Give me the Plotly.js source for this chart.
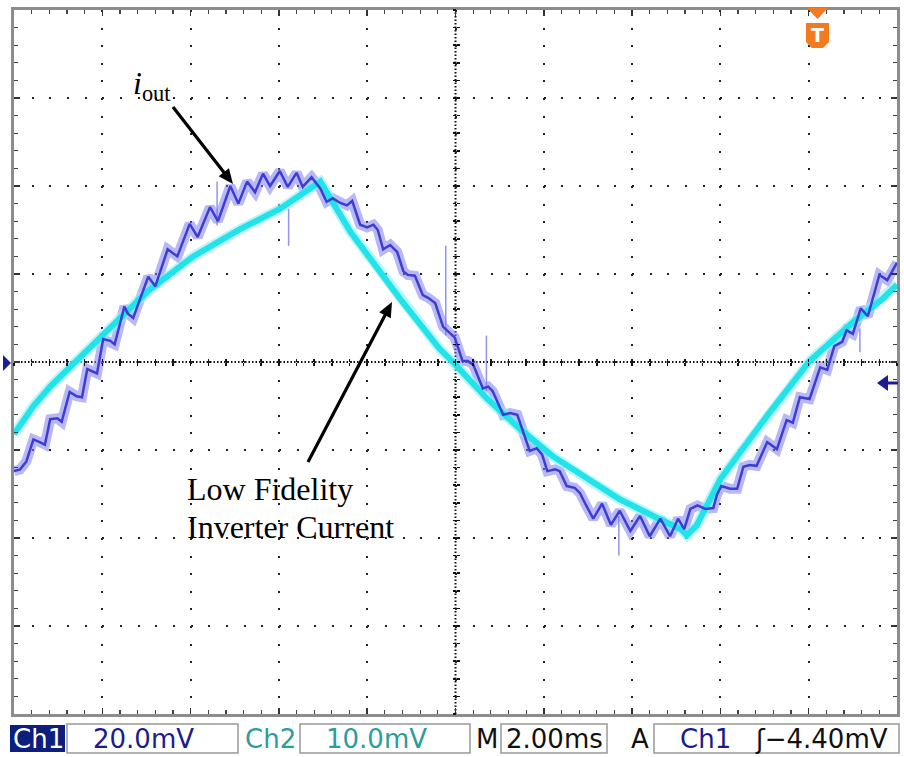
<!DOCTYPE html>
<html>
<head>
<meta charset="utf-8">
<script src="https://cdn.plot.ly/plotly-3.0.1.min.js"></script>
<style>
html,body{margin:0;padding:0;background:#fff;}
#chart{width:904px;height:757px;}
</style>
</head>
<body>
<div id="chart"></div>
<script>
// Oscilloscope screen, read in divisions: time 0..10 div (2.00 ms/div), amplitude -4..4 div
// Ch1 : i_out (ripple current, 20.0 mV/div)
const ch1Time = [0,0.07,0.14,0.22,0.29,0.35,0.41,0.49,0.54,0.63,
  0.71,0.77,0.83,0.89,0.94,1.01,1.09,1.14,1.25,1.29,
  1.35,1.52,1.60,1.74,1.85,1.99,2.08,2.22,2.31,2.45,
  2.54,2.64,2.73,2.82,2.90,3.01,3.10,3.20,3.27,3.37,
  3.47,3.54,3.61,3.69,3.77,3.83,3.92,4.00,4.07,4.12,
  4.18,4.26,4.34,4.41,4.46,4.54,4.63,4.69,4.77,4.86,
  4.93,4.99,5.08,5.14,5.20,5.31,5.37,5.42,5.54,5.62,
  5.70,5.75,5.84,5.92,5.98,6.04,6.13,6.18,6.26,6.35,
  6.41,6.48,6.56,6.66,6.76,6.86,6.98,7.09,7.20,7.32,
  7.43,7.52,7.59,7.66,7.74,7.83,7.92,7.96,8.01,8.11,
  8.19,8.26,8.33,8.41,8.53,8.64,8.75,8.82,8.90,9.01,
  9.13,9.21,9.29,9.38,9.43,9.50,9.59,9.67,9.80,9.89,10.0];
const ch1Level = [-1.24,-1.22,-1.13,-0.88,-0.91,-0.94,-0.65,-0.64,-0.68,-0.34,
  -0.39,-0.40,-0.08,-0.11,-0.13,0.26,0.24,0.20,0.63,0.55,
  0.50,0.97,0.86,1.28,1.20,1.57,1.42,1.76,1.60,2.00,
  1.80,2.05,1.93,2.14,2.00,2.17,1.99,2.15,1.99,2.10,
  1.97,1.82,1.86,1.81,1.78,1.83,1.56,1.53,1.56,1.50,
  1.28,1.33,1.25,1.03,0.99,0.98,0.76,0.73,0.67,0.40,
  0.34,0.28,0.01,0.01,-0.03,-0.30,-0.28,-0.33,-0.60,-0.58,
  -0.60,-0.74,-1.01,-0.98,-1.05,-1.24,-1.22,-1.24,-1.41,-1.43,
  -1.49,-1.63,-1.78,-1.61,-1.85,-1.69,-1.92,-1.75,-1.98,-1.78,
  -1.98,-1.78,-1.90,-1.67,-1.63,-1.67,-1.66,-1.51,-1.41,-1.44,
  -1.44,-1.19,-1.17,-1.18,-0.91,-0.99,-0.66,-0.69,-0.40,-0.42,
  -0.06,-0.09,0.18,0.23,0.36,0.32,0.61,0.52,0.99,0.93,1.13];
// Ch1 glitch spikes
const spikeTime = [2.30,3.11,4.89,5.35,6.85,9.58];
const spikeHigh = [2.05,1.74,1.32,0.30,-1.75,0.38];
const spikeLow  = [1.55,1.32,0.30,-0.33,-2.20,0.11];
// Ch2 : low fidelity inverter current (10.0 mV/div)
const ch2Time = [0,0.22,0.41,0.69,0.97,1.28,1.51,2.03,2.56,3.01,
  3.24,3.47,3.81,4.37,4.82,4.97,5.36,5.73,6.10,6.49,
  6.86,7.24,7.55,7.62,7.73,8.00,8.53,9.01,9.50,9.84,10.0];
const ch2Level = [-0.82,-0.50,-0.28,0.00,0.27,0.57,0.80,1.20,1.51,1.74,
  1.89,2.05,1.48,0.72,0.15,0.00,-0.42,-0.76,-1.07,-1.33,
  -1.56,-1.75,-1.90,-1.97,-1.86,-1.33,-0.61,0.01,0.45,0.72,0.88];
// Readout bar
const statusText = ['Ch1','20.0mV','Ch2','10.0mV','M','2.00ms','A','Ch1','ʃ\u22124.40mV'];
const annoLabelA = '<i>i</i><sub>out</sub>';
const annoLabelB1 = 'Low Fidelity';
const annoLabelB2 = 'Inverter Current';

// ---- pixel helpers for decorations (plot area 14..897 x 10..714) ----
const L = 14, R = 897, T = 10, B = 714;
const X = p => (p - L) / (R - L);
const Y = p => (B - p) / (B - T);
const poly = pts => 'M ' + pts.map(p => X(p[0]).toFixed(5) + ',' + Y(p[1]).toFixed(5)).join(' L ') + ' Z';

// arrow decoration (pixel positions): shaft line + filled head
function arrowShapes(tail, head) {
  const dx = head[0] - tail[0], dy = head[1] - tail[1];
  const len = Math.hypot(dx, dy), ux = dx / len, uy = dy / len;
  const hl = 15, hw = 6.5;
  const bx = head[0] - ux * hl, by = head[1] - uy * hl;
  return [
    {type: 'line', xref: 'paper', yref: 'paper', x0: X(tail[0]), y0: Y(tail[1]), x1: X(bx + ux * 2), y1: Y(by + uy * 2), line: {color: '#000', width: 3.2}},
    {type: 'path', xref: 'paper', yref: 'paper', path: poly([head, [bx - uy * hw, by + ux * hw], [bx + uy * hw, by - ux * hw]]), fillcolor: '#000', line: {width: 0}}
  ];
}

const spikeX = [], spikeY = [];
spikeTime.forEach((t, i) => { spikeX.push(t, t, null); spikeY.push(spikeHigh[i], spikeLow[i], null); });

const traces = [
  {x: ch1Time, y: ch1Level, mode: 'lines', line: {color: 'rgba(125,125,238,0.55)', width: 10}, hoverinfo: 'skip', showlegend: false},
  {x: ch2Time, y: ch2Level, mode: 'lines', line: {color: 'rgba(140,240,245,0.6)', width: 10}, hoverinfo: 'skip', showlegend: false},
  {x: ch2Time, y: ch2Level, mode: 'lines', line: {color: '#22e3ea', width: 6}, hoverinfo: 'skip', showlegend: false},
  {x: spikeX, y: spikeY, mode: 'lines', line: {color: 'rgba(120,120,235,0.8)', width: 1.5}, hoverinfo: 'skip', showlegend: false},
  {x: ch1Time, y: ch1Level, mode: 'lines', line: {color: '#3d3dd4', width: 2.5}, hoverinfo: 'skip', showlegend: false},
  // carriers for the centre-cross tick axes
  {x: [null], y: [null], xaxis: 'x2', yaxis: 'y', showlegend: false, hoverinfo: 'skip'},
  {x: [null], y: [null], xaxis: 'x3', yaxis: 'y', showlegend: false, hoverinfo: 'skip'},
  {x: [null], y: [null], xaxis: 'x', yaxis: 'y2', showlegend: false, hoverinfo: 'skip'},
  {x: [null], y: [null], xaxis: 'x', yaxis: 'y3', showlegend: false, hoverinfo: 'skip'}
];

const baseAxis = {
  zeroline: false, showticklabels: false, fixedrange: true,
  showline: true, linecolor: '#8c8c8c', linewidth: 3, mirror: 'ticks',
  ticks: 'inside', ticklen: 6, tickwidth: 1.5, tickcolor: '#333',
  dtick: 1, tick0: 0, showgrid: true, gridcolor: '#222', gridwidth: 2,
  minor: {dtick: 0.2, ticks: 'inside', ticklen: 4, tickwidth: 1.2, tickcolor: '#444', showgrid: false}
};
const centerTicks = (over, dir) => ({
  overlaying: over, anchor: 'free', position: 0.5, range: over === 'x' ? [0, 10] : [-4, 4],
  dtick: 0.2, tick0: 0, ticks: dir, ticklen: 3, tickwidth: 1.5, tickcolor: '#111',
  showticklabels: false, showgrid: false, showline: false, zeroline: false, fixedrange: true
});

const shapes = [
  {type: 'line', xref: 'x', yref: 'y', x0: 0, x1: 10, y0: 0, y1: 0, layer: 'below', line: {color: '#111', width: 2, dash: '1.5px,2px'}},
  {type: 'line', xref: 'x', yref: 'y', x0: 5, x1: 5, y0: -4, y1: 4, layer: 'below', line: {color: '#111', width: 2, dash: '1.5px,2px'}},
  // Ch1 ground marker (left)
  {type: 'path', xref: 'paper', yref: 'paper', path: poly([[3, 355], [11, 363], [3, 371]]), fillcolor: '#1c1c96', line: {width: 0}},
  // trigger level marker (right)
  {type: 'path', xref: 'paper', yref: 'paper', path: poly([[877, 383], [888, 375], [888, 391]]), fillcolor: '#1c1c96', line: {width: 0}},
  {type: 'line', xref: 'paper', yref: 'paper', x0: X(886), x1: X(898), y0: Y(383), y1: Y(383), line: {color: '#1c1c96', width: 3}},
  // trigger position marker (top)
  {type: 'path', xref: 'paper', yref: 'paper', path: poly([[807, 8], [828, 8], [817.5, 19]]), fillcolor: '#f47a1f', line: {width: 0}},
  {type: 'path', xref: 'paper', yref: 'paper', path: poly([[806, 23], [829, 23], [829, 42], [823, 48], [812, 48], [806, 42]]), fillcolor: '#f47a1f', line: {width: 0}},
  // readout boxes
  {type: 'rect', xref: 'paper', yref: 'paper', x0: X(10), x1: X(65), y0: Y(752), y1: Y(725), fillcolor: '#0c1f7c', line: {width: 0}},
  {type: 'rect', xref: 'paper', yref: 'paper', x0: X(67), x1: X(238), y0: Y(753), y1: Y(724), line: {color: '#999', width: 1.5}},
  {type: 'rect', xref: 'paper', yref: 'paper', x0: X(300), x1: X(470), y0: Y(753), y1: Y(724), line: {color: '#999', width: 1.5}},
  {type: 'rect', xref: 'paper', yref: 'paper', x0: X(501), x1: X(607), y0: Y(753), y1: Y(724), line: {color: '#999', width: 1.5}},
  {type: 'rect', xref: 'paper', yref: 'paper', x0: X(654), x1: X(899), y0: Y(753), y1: Y(724), line: {color: '#999', width: 1.5}}
].concat(arrowShapes([173, 107], [233, 184]), arrowShapes([308, 462], [392, 302]));

const stFont = (c) => ({family: 'DejaVu Sans', size: 26, color: c});
const stPos = [38, 143, 270, 376, 487, 554, 640, 705, 821];
const stCol = ['#ffffff', '#1b1b8f', '#2c9c9c', '#2c9c9c', '#111', '#111', '#111', '#1b1b8f', '#111'];
const annotations = statusText.map((t, i) => ({
  text: t, xref: 'paper', yref: 'paper', x: X(stPos[i]), y: Y(739), xanchor: 'center', yanchor: 'middle',
  showarrow: false, font: stFont(stCol[i])
}));
annotations.push(
  {text: 'T', xref: 'paper', yref: 'paper', x: X(817.5), y: Y(35), xanchor: 'center', yanchor: 'middle', showarrow: false,
   font: {family: 'DejaVu Sans', size: 19, color: '#fff', weight: 'bold'}},
  {text: annoLabelA, xref: 'paper', yref: 'paper', x: X(131), y: Y(86), xanchor: 'left', yanchor: 'middle', showarrow: false,
   font: {family: 'Liberation Serif', size: 32, color: '#000'}},
  {text: annoLabelB1, xref: 'paper', yref: 'paper', x: X(185), y: Y(489), xanchor: 'left', yanchor: 'middle', showarrow: false,
   font: {family: 'Liberation Serif', size: 32, color: '#000'}},
  {text: annoLabelB2, xref: 'paper', yref: 'paper', x: X(185), y: Y(527), xanchor: 'left', yanchor: 'middle', showarrow: false,
   font: {family: 'Liberation Serif', size: 32, color: '#000'}}
);

const layout = {
  width: 904, height: 757,
  margin: {l: L, r: 904 - R, t: T, b: 757 - B, pad: 0},
  paper_bgcolor: '#ffffff', plot_bgcolor: '#ffffff',
  showlegend: false,
  xaxis: Object.assign({}, baseAxis, {range: [0, 10], griddash: '2px,15.6px'}),
  yaxis: Object.assign({}, baseAxis, {range: [-4, 4], griddash: '2px,15.66px'}),
  xaxis2: centerTicks('x', 'inside'),
  xaxis3: centerTicks('x', 'outside'),
  yaxis2: centerTicks('y', 'inside'),
  yaxis3: centerTicks('y', 'outside'),
  shapes: shapes,
  annotations: annotations
};

Plotly.newPlot('chart', traces, layout, {staticPlot: true, displayModeBar: false});
</script>
</body>
</html>
